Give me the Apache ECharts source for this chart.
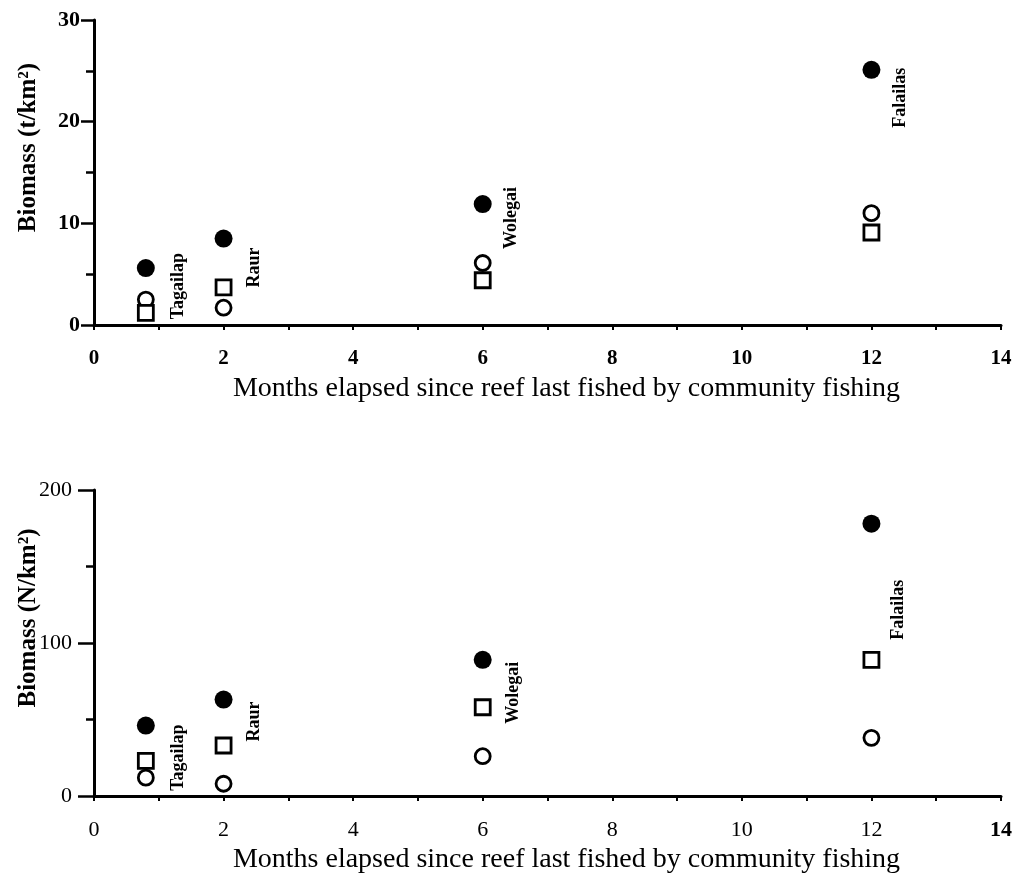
<!DOCTYPE html>
<html><head><meta charset="utf-8">
<script src="https://cdn.jsdelivr.net/npm/echarts@6/dist/echarts.min.js"></script>
<style>html,body{margin:0;padding:0;background:#fff}#c{width:1019px;height:880px}</style>
</head><body><div id="c"></div>
<script>
// ---- data ----
const sites = ['Tagailap', 'Raur', 'Wolegai', 'Falailas'];
const months = [0.8, 2, 6, 12];
const xTickValues = [0, 2, 4, 6, 8, 10, 12, 14];
const massYTicks = [0, 10, 20, 30];
const numYTicks = [0, 100, 200];
// top panel: biomass in t/km2
const massFilled = [5.6, 8.5, 11.9, 25.1];
const massCircle = [2.5, 1.7, 6.1, 11.0];
const massSquare = [1.2, 3.7, 4.4, 9.1];
// bottom panel: N/km2
const numFilled = [46, 63, 89, 178];
const numSquare = [23, 33, 58, 89];
const numCircle = [12, 8, 26, 38];

const xTitle = 'Months elapsed since reef last fished by community fishing';
const serif = "'Liberation Serif','Times New Roman',serif";

// ---- styling helpers (positions of rotated site labels relative to filled marker) ----
const topLabelOff = [[33, 18], [31, 29], [29, 14], [29, 28]];
const botLabelOff = [[33, 32], [31, 22], [31, 33], [27, 86]];
const FS = 18;

function filledSeries(name, vals, offs, gi) {
  return {
    name: name, type: 'scatter', xAxisIndex: gi, yAxisIndex: gi,
    symbol: 'circle', symbolSize: FS,
    itemStyle: { color: '#000', opacity: 1 },
    data: months.map((m, i) => ({
      value: [m, vals[i]],
      label: {
        show: true, formatter: sites[i], rotate: 90,
        position: [FS / 2 + offs[i][0], FS / 2 + offs[i][1]],
        align: 'center', verticalAlign: 'middle',
        fontFamily: serif, fontWeight: 'bold', fontSize: 18, color: '#000'
      }
    })),
    emphasis: { disabled: true }, z: 5
  };
}
function openSeries(name, vals, sym, size, gi) {
  return {
    name: name, type: 'scatter', xAxisIndex: gi, yAxisIndex: gi,
    symbol: sym, symbolSize: size,
    itemStyle: { color: '#fff', borderColor: '#000', borderWidth: 2.8, opacity: 1 },
    data: months.map((m, i) => [m, vals[i]]),
    emphasis: { disabled: true }, z: 4
  };
}

function xAxisCfg(gi, boldAll) {
  return {
    type: 'value', gridIndex: gi, min: 0, max: 14, interval: 1,
    axisLine: { onZero: false, lineStyle: { color: '#000', width: 3 } },
    axisTick: { show: true, length: 5, lineStyle: { color: '#000', width: 2 } },
    splitLine: { show: false },
    axisLabel: {
      margin: 23, color: '#000', fontFamily: serif, fontSize: boldAll ? 21 : 22,
      fontWeight: boldAll ? 'bold' : 'normal',
      formatter: v => xTickValues.indexOf(v) >= 0 ? (!boldAll && v === 14 ? '{b|' + v + '}' : String(v)) : '',
      rich: { b: { fontFamily: serif, fontSize: 22, fontWeight: 'bold', color: '#000' } }
    },
    name: xTitle, nameLocation: 'middle', nameGap: 50, nameMoveOverlap: false,
    nameTextStyle: { fontFamily: serif, fontSize: 28, color: '#000', padding: [0, 0, 0, 38] }
  };
}
function yAxisCfg(gi, ticks, title, bold, tickLen, margin) {
  return {
    type: 'value', gridIndex: gi, min: ticks[0], max: ticks[ticks.length - 1],
    interval: ticks[1] - ticks[0],
    axisLine: { show: true, lineStyle: { color: '#000', width: 3 } },
    axisTick: { show: true, length: tickLen, lineStyle: { color: '#000', width: 2.5 } },
    minorTick: { show: true, splitNumber: 2, length: 8, lineStyle: { color: '#000', width: 2.5 } },
    splitLine: { show: false },
    axisLabel: { margin: margin, color: '#000', fontFamily: serif, fontSize: 22, fontWeight: bold ? 'bold' : 'normal' },
    name: title, nameLocation: 'middle', nameGap: 53, nameRotate: 90, nameMoveOverlap: false,
    nameTextStyle: { fontFamily: serif, fontSize: 25, fontWeight: 'bold', color: '#000', padding: [0, 0, 0, 50] }
  };
}

const chart = echarts.init(document.getElementById('c'), null, { renderer: 'canvas' });
chart.setOption({
  animation: false,
  backgroundColor: '#fff',
  grid: [
    { left: 94, right: 18, top: 20, height: 305 },
    { left: 94, right: 18, top: 490, height: 306 }
  ],
  xAxis: [xAxisCfg(0, true), xAxisCfg(1, false)],
  yAxis: [
    yAxisCfg(0, massYTicks, 'Biomass (t/km²)', true, 13, 14),
    yAxisCfg(1, numYTicks, 'Biomass (N/km²)', false, 16, 22)
  ],
  series: [
    openSeries('Open circles (t/km²)', massCircle, 'circle', 15, 0),
    openSeries('Open squares (t/km²)', massSquare, 'rect', 15, 0),
    filledSeries('Filled circles (t/km²)', massFilled, topLabelOff, 0),
    openSeries('Open squares (N/km²)', numSquare, 'rect', 15, 1),
    openSeries('Open circles (N/km²)', numCircle, 'circle', 15, 1),
    filledSeries('Filled circles (N/km²)', numFilled, botLabelOff, 1)
  ]
});
</script>
</body></html>
